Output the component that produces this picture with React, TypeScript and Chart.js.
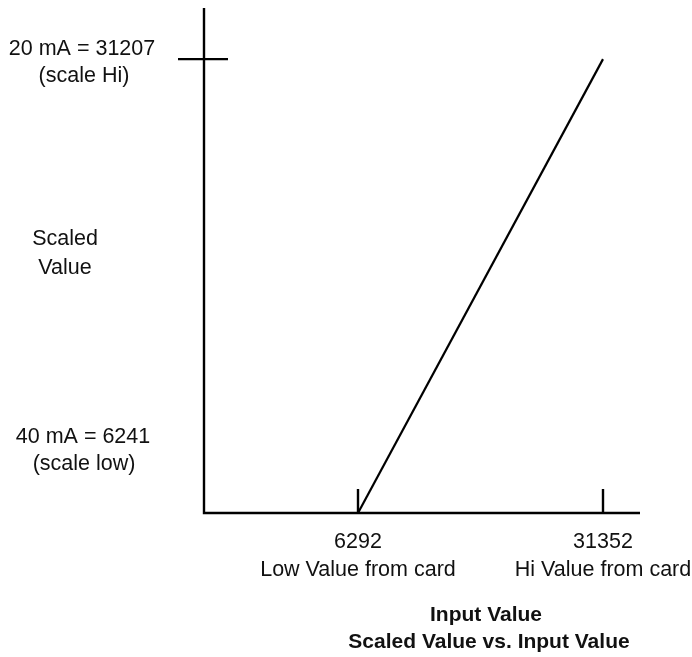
import React, { useEffect, useRef } from "react";
import { Chart, registerables } from "chart.js";

Chart.register(...registerables);

// Data
const inputValues = [6292, 31352];
const scaledValues = [6241, 31207];
const xTickValues = [6292, 31352];
const xTickNames = ["Low Value from card", "Hi Value from card"];
const yTickValue = 31207;
const yHiLabel = ["20 mA = 31207", "(scale Hi)"];
const yLowLabel = ["40 mA = 6241", "(scale low)"];
const yAxisTitle = ["Scaled", "Value"];
const xAxisTitle = "Input Value";
const chartTitle = "Scaled Value vs. Input Value";

const FONT = "'Liberation Sans', Arial, Helvetica, sans-serif";

const drawPlugin = {
  id: "schematicAxes",
  afterDraw(chart: any) {
    const ctx = chart.ctx as CanvasRenderingContext2D;
    const { left, right, top, bottom } = chart.chartArea;
    const xs = chart.scales.x;
    const ys = chart.scales.y;
    ctx.save();
    ctx.strokeStyle = "#000";
    ctx.lineWidth = 2.4;
    ctx.lineCap = "butt";
    // axes
    ctx.beginPath();
    ctx.moveTo(left, top);
    ctx.lineTo(left, bottom);
    ctx.lineTo(right, bottom);
    ctx.stroke();
    // y tick
    const yt = ys.getPixelForValue(yTickValue);
    ctx.beginPath();
    ctx.moveTo(left - 26, yt);
    ctx.lineTo(left + 24, yt);
    ctx.stroke();
    // x ticks
    xTickValues.forEach((v) => {
      const px = xs.getPixelForValue(v);
      ctx.beginPath();
      ctx.moveTo(px, bottom - 24);
      ctx.lineTo(px, bottom);
      ctx.stroke();
    });

    ctx.fillStyle = "#111";
    ctx.textAlign = "center";
    ctx.textBaseline = "alphabetic";
    ctx.font = `21.5px ${FONT}`;
    // y labels
    ctx.fillText(yHiLabel[0], 82, yt - 4);
    ctx.fillText(yHiLabel[1], 84, yt + 23);
    ctx.fillText(yLowLabel[0], 83, bottom - 70);
    ctx.fillText(yLowLabel[1], 84, bottom - 43);
    ctx.fillText(yAxisTitle[0], 65, 245);
    ctx.fillText(yAxisTitle[1], 65, 274);
    // x labels
    xTickValues.forEach((v, i) => {
      const px = xs.getPixelForValue(v);
      ctx.fillText(String(v), px, bottom + 35);
      ctx.fillText(xTickNames[i], px, bottom + 63);
    });
    ctx.font = `bold 21px ${FONT}`;
    ctx.fillText(xAxisTitle, 486, 621);
    ctx.fillText(chartTitle, 489, 648);
    ctx.restore();
  },
};

export default function App() {
  const canvasRef = useRef<HTMLCanvasElement | null>(null);
  useEffect(() => {
    if (!canvasRef.current) return;
    const chart = new Chart(canvasRef.current, {
      type: "scatter",
      data: {
        datasets: [
          {
            data: inputValues.map((x, i) => ({ x, y: scaledValues[i] })),
            showLine: true,
            borderColor: "#000",
            borderWidth: 2.2,
            pointRadius: 0,
            fill: false,
          },
        ],
      },
      options: {
        animation: false,
        responsive: true,
        maintainAspectRatio: false,
        layout: { padding: { left: 204, right: 52, top: 8, bottom: 144 } },
        plugins: { legend: { display: false }, tooltip: { enabled: false } },
        scales: {
          x: { type: "linear", min: -9460, max: 35137, display: false },
          y: { type: "linear", min: 6241, max: 34018, display: false },
        },
      },
      plugins: [drawPlugin],
    });
    return () => chart.destroy();
  }, []);
  return (
    <div style={{ position: "fixed", left: 0, top: 0, width: 692, height: 657, background: "#fff" }}>
      <canvas ref={canvasRef} />
    </div>
  );
}
